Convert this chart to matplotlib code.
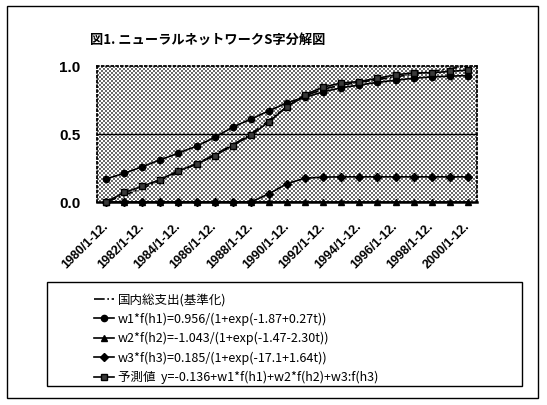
import numpy as np
import matplotlib
matplotlib.use("Agg")
import matplotlib.pyplot as plt
from matplotlib.patches import Rectangle

plt.rcParams["font.family"] = ["Noto Sans CJK JP", "DejaVu Sans"]

# ---- データ ----
periods = ["1980/1-12.", "1981/1-12.", "1982/1-12.", "1983/1-12.", "1984/1-12.",
           "1985/1-12.", "1986/1-12.", "1987/1-12.", "1988/1-12.", "1989/1-12.",
           "1990/1-12.", "1991/1-12.", "1992/1-12.", "1993/1-12.", "1994/1-12.",
           "1995/1-12.", "1996/1-12.", "1997/1-12.", "1998/1-12.", "1999/1-12.",
           "2000/1-12."]
gde_actual = [0.00, 0.05, 0.10, 0.16, 0.22, 0.28, 0.35, 0.42, 0.50, 0.60, 0.70,
              0.78, 0.83, 0.86, 0.88, 0.90, 0.92, 0.94, 0.96, 0.98, 1.00]
w1_f1 = [0.17, 0.21, 0.26, 0.31, 0.36, 0.41, 0.475, 0.55, 0.61, 0.67, 0.73,
         0.77, 0.81, 0.84, 0.86, 0.88, 0.895, 0.91, 0.92, 0.925, 0.93]
w2_f2 = [0.0] * 21
w3_f3 = [0.0, 0.0, 0.0, 0.0, 0.0, 0.0, 0.0, 0.0, 0.0, 0.06, 0.135,
         0.175, 0.183, 0.185, 0.185, 0.185, 0.185, 0.185, 0.185, 0.185, 0.185]
predicted = [0.0, 0.07, 0.115, 0.165, 0.23, 0.28, 0.34, 0.415, 0.49, 0.59, 0.70,
             0.79, 0.845, 0.875, 0.886, 0.91, 0.935, 0.95, 0.95, 0.96, 0.97]

labels = ["国内総支出(基準化)",
          "w1*f(h1)=0.956/(1+exp(-1.87+0.27t))",
          "w2*f(h2)=-1.043/(1+exp(-1.47-2.30t))",
          "w3*f(h3)=0.185/(1+exp(-17.1+1.64t))",
          "予測値  y=-0.136+w1*f(h1)+w2*f(h2)+w3:f(h3)"]

W, H = 547, 405
fig = plt.figure(figsize=(W / 100, H / 100), dpi=100)

# プロット領域(ピクセル)
px0, px1, py_top, py_bot = 97, 477, 66, 202
ax = fig.add_axes([px0 / W, 1 - py_bot / H, (px1 - px0) / W, (py_bot - py_top) / H])
ax.patch.set_visible(False)

# 網点の背景
ih, iw = py_bot - py_top, px1 - px0
ii, jj = np.indices((ih, iw))
dots = ((ii % 4 < 2) & (jj % 4 < 2)) | (((ii + 2) % 4 < 2) & ((jj + 2) % 4 < 2))
img = np.where(dots, 0.42, 1.0)
fig.figimage(img, xo=px0, yo=H - py_bot, cmap="gray", vmin=0, vmax=1, zorder=-1)

x = np.arange(len(periods))
lw = 1.2
ax.plot(x, gde_actual, color="black", lw=lw, ls="-.", label=labels[0], zorder=3)
ax.plot(x, w1_f1, color="black", lw=lw, marker="o", ms=4.5, label=labels[1], zorder=4)
ax.plot(x, w2_f2, color="black", lw=lw, marker="^", ms=4.5, label=labels[2],
        zorder=4, clip_on=False)
ax.plot(x, w3_f3, color="black", lw=lw, marker="D", ms=4, label=labels[3],
        zorder=4, clip_on=False)
ax.plot(x, predicted, color="black", lw=lw, marker="s", ms=5, mfc="#3a3a3a",
        mec="black", label=labels[4], zorder=5, clip_on=False)

ax.axhline(0.5, color="black", lw=1.0, zorder=2)
ax.set_xlim(-0.5, len(periods) - 0.5)
ax.set_ylim(0, 1.0)
ax.set_yticks([0.0, 0.5, 1.0])
ax.set_yticklabels(["0.0", "0.5", "1.0"], fontsize=11, fontweight="bold",
                   family=["Liberation Sans", "DejaVu Sans"])
ax.set_xticks(x[::2])
ax.set_xticklabels(periods[::2], rotation=45, ha="right", va="center",
                   rotation_mode="anchor", fontsize=9, fontweight="bold",
                   family=["Liberation Sans", "DejaVu Sans"])
ax.tick_params(axis="both", length=0)
ax.tick_params(axis="y", pad=12)
ax.tick_params(axis="x", pad=16)

for side in ("top", "right", "left"):
    ax.spines[side].set_linestyle(":")
    ax.spines[side].set_linewidth(1.3)
ax.spines["bottom"].set_linewidth(1.8)

fig.text(90 / W, 1 - 40 / H, "図1. ニューラルネットワークS字分解図", fontsize=9.5,
         fontweight="bold", va="center", ha="left")

# 外枠と凡例枠
fig.add_artist(Rectangle((7 / W, 1 - 398 / H), 531 / W, 392 / H, transform=fig.transFigure,
                         fill=False, ec="black", lw=1.0))
fig.add_artist(Rectangle((47 / W, 1 - 386 / H), 475 / W, 104 / H, transform=fig.transFigure,
                         fill=False, ec="black", lw=1.0))

handles, labs = ax.get_legend_handles_labels()
fig.legend(handles, labs, loc="upper left", bbox_to_anchor=(88 / W, 1 - 287 / H),
           frameon=False, fontsize=9, handlelength=1.6, handletextpad=0.3,
           labelspacing=0.5, borderpad=0)

fig.savefig("out.png", dpi=100)
